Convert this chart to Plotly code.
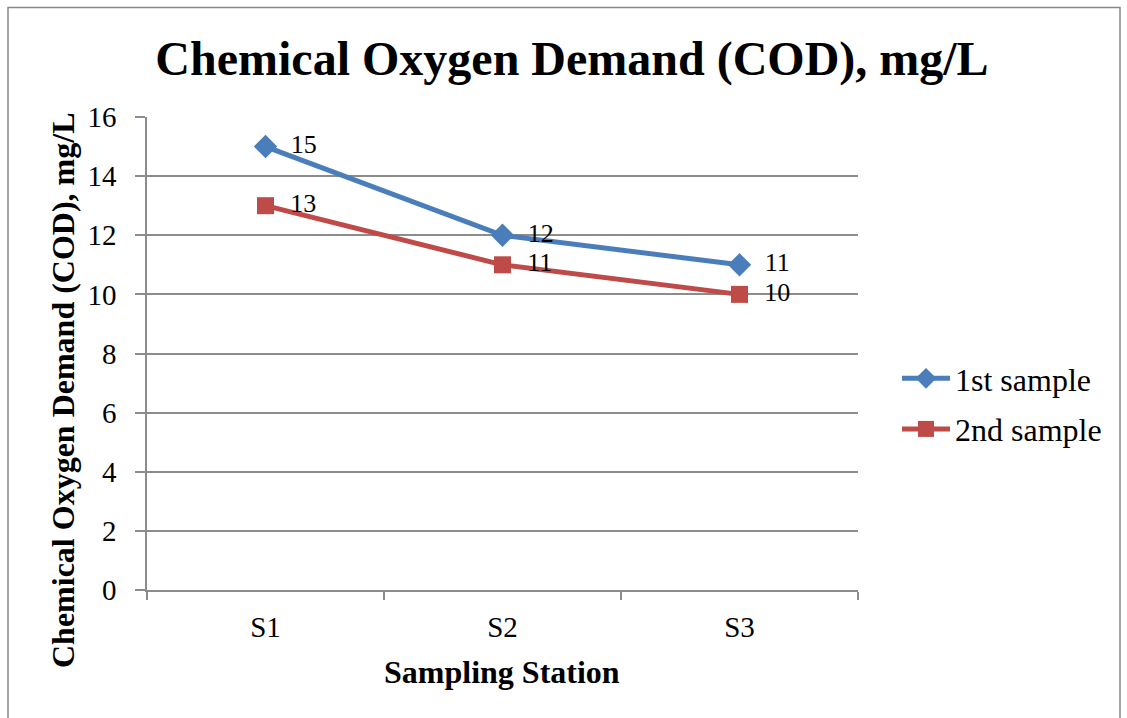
import plotly.graph_objects as go

categories = ["S1", "S2", "S3"]
sample1 = [15, 12, 11]
sample2 = [13, 11, 10]
series_names = ["1st sample", "2nd sample"]
y_ticks = [0, 2, 4, 6, 8, 10, 12, 14, 16]

FONT = "Liberation Serif"
BLUE = "#4A7EBB"
RED = "#BE4B48"
GRID = "#8c8c8c"

fig = go.Figure()
fig.add_trace(go.Scatter(
    x=categories, y=sample1, name=series_names[0], mode="lines+markers+text",
    legendgroup="g1",
    line=dict(color=BLUE, width=5),
    marker=dict(symbol="diamond", size=18, color=BLUE),
    text=["  " + str(v) for v in sample1], textposition="middle right",
    textfont=dict(family=FONT, size=26, color="black"),
))
fig.add_trace(go.Scatter(
    x=categories, y=sample2, name=series_names[1], mode="lines+markers+text",
    legendgroup="g2",
    line=dict(color=RED, width=5),
    marker=dict(symbol="square", size=17, color=RED),
    text=["  " + str(v) for v in sample2], textposition="middle right",
    textfont=dict(family=FONT, size=26, color="black"),
))

# pixel helpers for paper coordinates
L, R, T, B = 147, 269, 117, 128
W, H = 1127, 718
pw, ph = W - L - R, H - T - B
def px_x(p):
    return (p - L) / pw
def px_y(p):
    return (H - B - p) / ph

fig.add_shape(type="rect", xref="paper", yref="paper",
              x0=px_x(8), x1=px_x(1120), y0=px_y(730), y1=px_y(7.5),
              line=dict(color="#888888", width=1.5), fillcolor="rgba(0,0,0,0)", layer="below")

fig.add_annotation(text="<b>Chemical Oxygen Demand (COD), mg/L</b>", textangle=-90,
                   xref="paper", yref="paper", x=px_x(63), y=px_y(390),
                   xanchor="center", yanchor="middle", showarrow=False,
                   font=dict(family=FONT, size=32, color="black"))
fig.add_annotation(text="<b>Sampling Station</b>",
                   xref="paper", yref="paper", x=px_x(502), y=px_y(672),
                   xanchor="center", yanchor="middle", showarrow=False,
                   font=dict(family=FONT, size=32, color="black"))

fig.update_layout(
    width=W, height=H,
    margin=dict(l=L, r=R, t=T, b=B),
    paper_bgcolor="white", plot_bgcolor="white",
    font=dict(family=FONT, color="black", size=29),
    title=dict(text="<b>Chemical Oxygen Demand (COD), mg/L</b>",
               font=dict(family=FONT, size=48, color="black"),
               xref="container", x=572 / W, xanchor="center",
               yref="container", y=1 - 58 / H, yanchor="middle"),
    xaxis=dict(
        type="category", range=[-0.5, 2.5], tickson="boundaries",
        ticks="outside", ticklen=8, tickcolor=GRID, tickwidth=1.5,
        showline=True, linecolor=GRID, linewidth=1.5, showgrid=False,
        tickfont=dict(family=FONT, size=29, color="black"),
        ticklabelstandoff=10, zeroline=False,
    ),
    yaxis=dict(
        range=[0, 16], tickvals=y_ticks, ticks="outside", ticklen=10, tickcolor=GRID, tickwidth=1.5,
        showline=True, linecolor=GRID, linewidth=1.5,
        showgrid=True, gridcolor=GRID, gridwidth=1.5, zeroline=False,
        tickfont=dict(family=FONT, size=29, color="black"),
        ticklabelstandoff=13,
    ),
    legend=dict(x=px_x(897), xanchor="left", y=px_y(404), yanchor="middle",
                font=dict(family=FONT, size=32, color="black"),
                bgcolor="rgba(0,0,0,0)", tracegroupgap=6, itemwidth=48),
    showlegend=True,
)

fig.write_html("out.html")
